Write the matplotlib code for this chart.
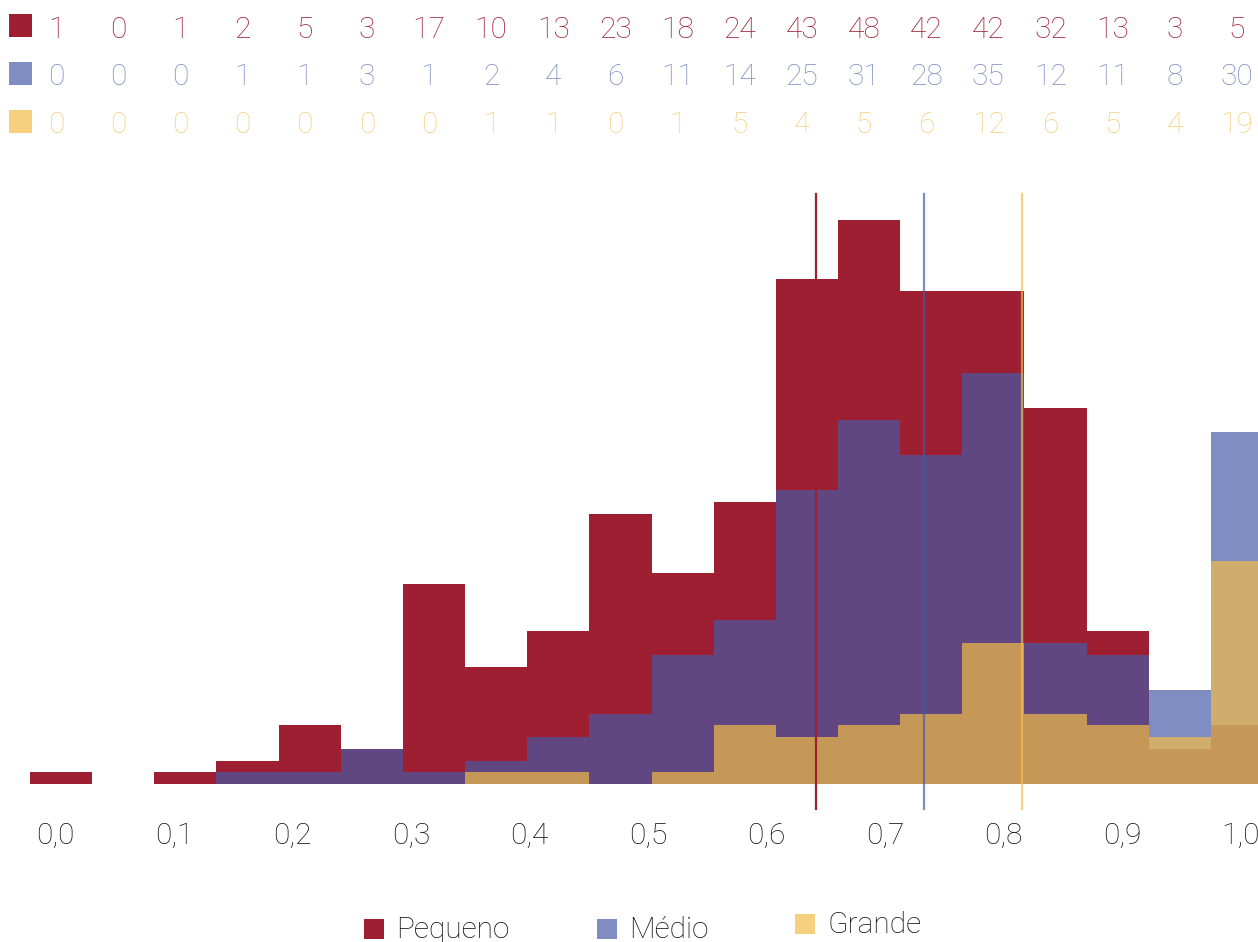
import numpy as np
import matplotlib
matplotlib.use("Agg")
import matplotlib.pyplot as plt
from matplotlib.patches import Rectangle
from matplotlib.transforms import blended_transform_factory

# Histogram counts per 0.05-wide bin, 0.0 to 1.0
series_names = ["Pequeno", "Médio", "Grande"]
pequeno = [1, 0, 1, 2, 5, 3, 17, 10, 13, 23, 18, 24, 43, 48, 42, 42, 32, 13, 3, 5]
medio = [0, 0, 0, 1, 1, 3, 1, 2, 4, 6, 11, 14, 25, 31, 28, 35, 12, 11, 8, 30]
grande = [0, 0, 0, 0, 0, 0, 0, 1, 1, 0, 1, 5, 4, 5, 6, 12, 6, 5, 4, 19]
# Mean of each group
means = [0.632, 0.7195, 0.798]
tick_labels = ["0,0", "0,1", "0,2", "0,3", "0,4", "0,5", "0,6", "0,7", "0,8", "0,9", "1,0"]

colors = ["#9E1F31", "#465AA8", "#F2BC47"]
alphas = [1.0, 0.69, 0.70]

FONT = ["Roboto", "DejaVu Sans"]
plt.rcParams["font.family"] = FONT
plt.rcParams["font.weight"] = "light"

W, H = 1258, 942
fig = plt.figure(figsize=(W / 100, H / 100), dpi=100)
ax = fig.add_axes([30 / W, 158 / H, 1243 / W, 587.5 / H])
ax.set_xlim(0, 1)
ax.set_ylim(0, 50)
for s in ax.spines.values():
    s.set_visible(False)
ax.set_yticks([])

edges = np.linspace(0, 1, len(pequeno) + 1)
for vals, c, a in zip([pequeno, medio, grande], colors, alphas):
    ax.stairs(vals, edges, fill=True, color=c, alpha=a, linewidth=0)

for m, c, a in zip(means, colors, alphas):
    ax.axvline(m, ymin=-0.0426, ymax=1.004, color=c, alpha=a, lw=1.6,
               clip_on=False, zorder=5)

# x tick labels, evenly spread along the axis
tick_pos = np.linspace(0.0205, 0.974, len(tick_labels))
ax.set_xticks(tick_pos)
ax.set_xticklabels(tick_labels, fontsize=21.5, color="#111111")
ax.tick_params(axis="x", length=0, pad=43.5)
for lbl in ax.get_xticklabels():
    lbl.set_va("baseline")

# count rows above the chart
centers = (edges[:-1] + edges[1:]) / 2
trans = blended_transform_factory(ax.transData, fig.transFigure)
row_baselines = [38, 85, 133]
row_square_top = [14, 62, 110]
text_colors = ["#9E1F31", "#7F8DC3", "#F6D07E"]
for vals, base, sq_top, tc in zip([pequeno, medio, grande], row_baselines,
                                   row_square_top, text_colors):
    fig.add_artist(Rectangle((9 / W, 1 - (sq_top + 23) / H), 23 / W, 23 / H,
                             transform=fig.transFigure, color=tc, lw=0))
    for x, v in zip(centers, vals):
        ax.annotate(str(v), xy=(x, 1 - base / H), xycoords=trans,
                    xytext=(-3.6, 0), textcoords="offset points",
                    ha="center", va="baseline", fontsize=21.5, color=tc,
                    annotation_clip=False)

# legend along the bottom: square left, square top, text left, text baseline
legend_items = [
    (364, 919, 396, 938),
    (597, 919, 629, 938),
    (795, 914, 827, 933),
]
for name, tc, (sx, sy, tx, tb) in zip(series_names, text_colors, legend_items):
    fig.add_artist(Rectangle((sx / W, 1 - (sy + 20) / H), 20 / W, 20 / H,
                             transform=fig.transFigure, color=tc, lw=0))
    fig.text(tx / W, 1 - tb / H, name, ha="left", va="baseline",
             fontsize=21.5, color="#111111")

fig.savefig("out.png", dpi=100)
